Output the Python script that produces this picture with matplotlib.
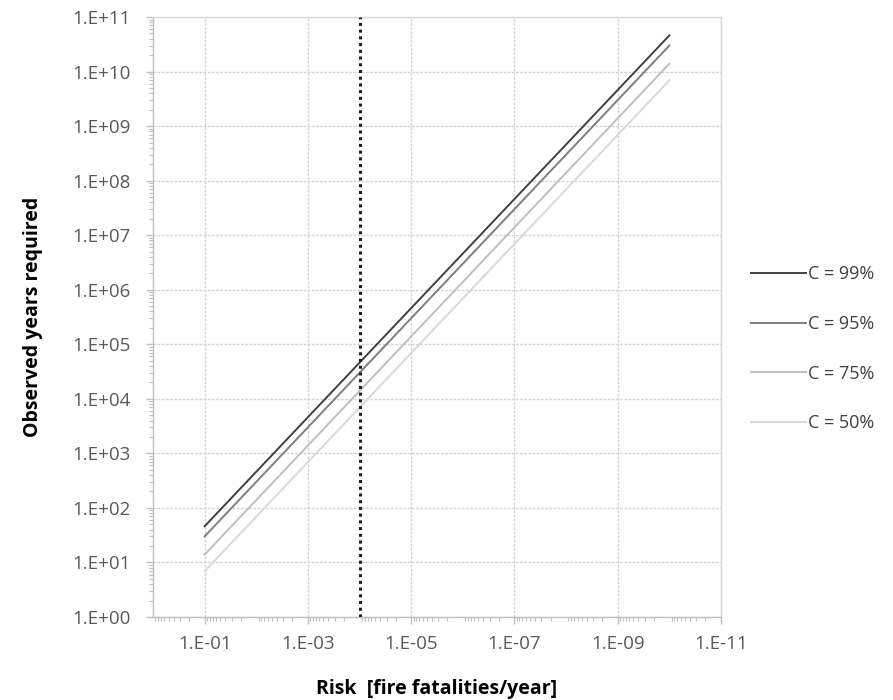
import math
import matplotlib
matplotlib.use('Agg')
import matplotlib.pyplot as plt
from matplotlib.ticker import FixedLocator, LogLocator, FuncFormatter, NullFormatter

# -------------------------------------------------------- #
#                         Data                             #
# -------------------------------------------------------- #

risk = [1e-1, 1e-10]
years_99 = [46, 4.6e10]
years_95 = [30, 3.0e10]
years_75 = [13.9, 1.39e10]
years_50 = [6.9, 6.9e9]

labels = ['C = 99%', 'C = 95%', 'C = 75%', 'C = 50%']
colors = ['#404040', '#7f7f7f', '#bfbfbf', '#d9d9d9']

target_risk = [1e-4, 1e-4]
target_years = [1, 1e11]

xticks = [1e-1, 1e-3, 1e-5, 1e-7, 1e-9, 1e-11]
yticks = [10.0 ** k for k in range(0, 12)]

plt.rcParams['font.family'] = ['Open Sans', 'DejaVu Sans']


def sci_fmt(v, pos):
    e = int(round(math.log10(v)))
    sign = '+' if e >= 0 else '-'
    return '1.E{}{:02d}'.format(sign, abs(e))


# -------------------------------------------------------- #
#                         Plot                             #
# -------------------------------------------------------- #

fig = plt.figure(figsize=(8.93, 7.0), dpi=100)
ax = fig.add_axes([0.1713, 0.1186, 0.8074 - 0.1713, 0.9757 - 0.1186])

for ys, lab, col in zip([years_99, years_95, years_75, years_50], labels, colors):
    ax.plot(risk, ys, color=col, lw=1.4, label=lab)

ax.plot(target_risk, target_years, color='#202020', lw=2.2,
        linestyle=(0, (1, 1.2)), zorder=3)

ax.set_xscale('log')
ax.set_yscale('log')
ax.set_xlim(1, 1e-11)
ax.set_ylim(1, 1e11)

ax.xaxis.set_major_locator(FixedLocator(xticks))
ax.yaxis.set_major_locator(FixedLocator(yticks))
ax.xaxis.set_minor_locator(LogLocator(base=10, subs=range(2, 10), numticks=50))
ax.yaxis.set_minor_locator(LogLocator(base=10, subs=range(2, 10), numticks=50))
ax.xaxis.set_major_formatter(FuncFormatter(sci_fmt))
ax.yaxis.set_major_formatter(FuncFormatter(sci_fmt))
ax.xaxis.set_minor_formatter(NullFormatter())
ax.yaxis.set_minor_formatter(NullFormatter())

ax.grid(True, which='major', color='#d4d4d4', lw=1.0, linestyle=(0, (2, 1)))
ax.set_axisbelow(True)

for side in ['top', 'right']:
    ax.spines[side].set_color('#d9d9d9')
    ax.spines[side].set_linewidth(1.0)
for side in ['left', 'bottom']:
    ax.spines[side].set_color('#bfbfbf')
    ax.spines[side].set_linewidth(1.0)

ax.tick_params(which='major', direction='out', length=5, width=1,
               color='#bfbfbf', labelcolor='#595959', labelsize=13.5)
ax.tick_params(axis='y', which='major', pad=11)
ax.tick_params(axis='x', which='major', pad=8)
ax.tick_params(which='minor', direction='out', length=3, width=0.8,
               color='#bfbfbf')

ax.set_xlabel('Risk  [fire fatalities/year]', fontsize=14, fontweight='bold',
              labelpad=19)
ax.set_ylabel('Observed years required', fontsize=14, fontweight='bold',
              labelpad=21)

leg = ax.legend(loc='center left', bbox_to_anchor=(1.025, 0.447), frameon=False,
                fontsize=13, handlelength=3.0, handletextpad=0.15,
                labelspacing=1.75, labelcolor='#404040')

fig.savefig('out.png', dpi=100)
